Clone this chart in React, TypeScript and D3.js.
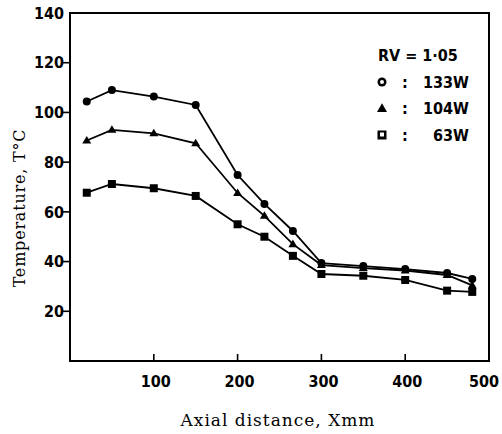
import React from "react";
import * as d3 from "d3";

const xPositions = [20, 50, 100, 150, 200, 232, 266, 300, 350, 400, 450, 480];
const series133W = [104.4, 109, 106.4, 103, 74.8, 63.2, 52.3, 39.4, 38.2, 37, 35.4, 33];
const series104W = [88.7, 93, 91.6, 87.6, 67.6, 58.4, 47, 38.6, 37.4, 36.4, 34.6, 30.4];
const series63W = [67.7, 71.2, 69.5, 66.4, 55, 50, 42.3, 35, 34.3, 32.6, 28.3, 27.8];
const xTicks = [100, 200, 300, 400, 500];
const yTicks = [20, 40, 60, 80, 100, 120, 140];
const legendTitle = "RV = 1·05";
const legendLabels = ["133W", "104W", "63W"];

const W = 502;
const H = 434;
const left = 70, right = 489, top = 13, bottom = 361;
const numFont = "'DejaVu Sans Condensed', 'DejaVu Sans', sans-serif";
const serifFont = "'DejaVu Serif', serif";

function Marker({ kind, x, y, s }: { kind: string; x: number; y: number; s: number }) {
  if (kind === "circle") return <circle cx={x} cy={y} r={s / 2} fill="#000" />;
  if (kind === "triangle") {
    const h = s * 0.95;
    return (
      <path
        d={`M${x},${y - h * 0.6} L${x + s / 2 + 0.5},${y + h * 0.4} L${x - s / 2 - 0.5},${y + h * 0.4} Z`}
        fill="#000"
      />
    );
  }
  return <rect x={x - s / 2} y={y - s / 2} width={s} height={s} fill="#000" />;
}

export default function App() {
  const x = d3.scaleLinear().domain([0, 500]).range([left, right]);
  const y = d3.scaleLinear().domain([0, 140]).range([bottom, top]);
  const line = d3
    .line<number>()
    .x((_, i) => x(xPositions[i]))
    .y((d) => y(d));
  const series = [
    { data: series133W, kind: "circle" },
    { data: series104W, kind: "triangle" },
    { data: series63W, kind: "square" },
  ];
  return (
    <svg
      width={W}
      height={H}
      style={{ position: "absolute", left: 0, top: 0, background: "#fff" }}
    >
      <rect x={left} y={top} width={right - left} height={bottom - top} fill="none" stroke="#000" strokeWidth={2} />
      {yTicks.map((t) => (
        <g key={t}>
          {t !== 140 && <line x1={left - 7} x2={left} y1={y(t)} y2={y(t)} stroke="#000" strokeWidth={1.6} />}
          <text
            x={left - 6}
            y={y(t)}
            dy="0.36em"
            textAnchor="end"
            fontFamily={numFont}
            fontSize={16}
            fontWeight="bold"
            fill="#000"
          >
            {t}
          </text>
        </g>
      ))}
      {xTicks.map((t) => (
        <g key={t}>
          {t !== 500 && <line x1={x(t)} x2={x(t)} y1={bottom} y2={bottom - 7} stroke="#000" strokeWidth={1.6} />}
          <text
            x={t === 500 ? x(t) - 5 : x(t) + 2}
            y={387}
            textAnchor="middle"
            fontFamily={numFont}
            fontSize={16}
            fontWeight="bold"
            fill="#000"
          >
            {t}
          </text>
        </g>
      ))}
      {series.map((s, i) => (
        <g key={i}>
          <path d={line(s.data) || ""} fill="none" stroke="#000" strokeWidth={1.8} />
          {s.data.map((v, j) => (
            <Marker key={j} kind={s.kind} x={x(xPositions[j])} y={y(v)} s={8} />
          ))}
        </g>
      ))}
      <text x={378} y={61} fontFamily={numFont} fontSize={16} fontWeight="bold" fill="#000">
        {legendTitle}
      </text>
      {legendLabels.map((lab, i) => {
        const ly = 82 + i * 26.5;
        const kinds = ["circle", "triangle", "square"];
        return (
          <g key={lab}>
            <Marker kind={kinds[i]} x={382} y={ly} s={9} />
            {i === 0 && <circle cx={382} cy={ly} r={2} fill="#fff" />}
            {i === 2 && <rect x={380} y={ly - 2.5} width={4} height={4} fill="#fff" />}
            <text x={405} y={ly} dy="0.36em" textAnchor="middle" fontFamily={numFont} fontSize={16} fontWeight="bold" fill="#000">
              :
            </text>
            <text x={469} y={ly} dy="0.36em" textAnchor="end" fontFamily={numFont} fontSize={16} fontWeight="bold" fill="#000">
              {lab}
            </text>
          </g>
        );
      })}
      <text
        transform={`translate(25,208) rotate(-90)`}
        textAnchor="middle"
        fontFamily={serifFont}
        fontSize={16}
        letterSpacing={0.8}
        fill="#000"
      >
        Temperature, T°C
      </text>
      <text x={278} y={426} textAnchor="middle" fontFamily={serifFont} fontSize={17} letterSpacing={1} fill="#000">
        Axial distance, Xmm
      </text>
    </svg>
  );
}
